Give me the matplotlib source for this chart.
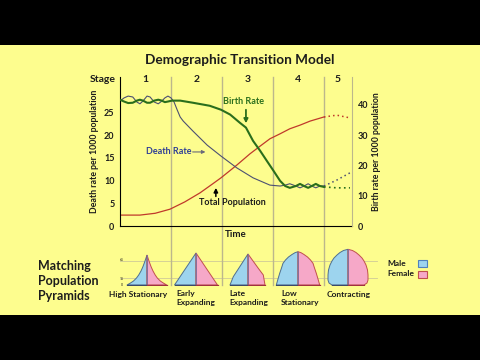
import matplotlib
matplotlib.use('Agg')
import matplotlib.pyplot as plt
from matplotlib.patches import Rectangle
from matplotlib.lines import Line2D

plt.rcParams['font.family'] = ['Lato', 'DejaVu Sans']

# ---- data ----
stage_names = ['1', '2', '3', '4', '5']
stage_centers = [0.50, 1.50, 2.50, 3.50, 4.27]
stage_bounds = [1, 2, 3, 4]

# death rate (left axis, per 1000)
death_x = [0.00, 0.08, 0.16, 0.25, 0.33, 0.39, 0.45, 0.53, 0.59, 0.67, 0.75, 0.82, 0.88,
           0.94, 1.00, 1.06, 1.12, 1.18, 1.24, 1.43, 1.71, 1.98, 2.29, 2.61, 2.94, 3.14,
           3.24, 3.33, 3.45, 3.53, 3.61, 3.69, 3.76, 3.84, 3.92, 4.00]
death = [27.5, 28.2, 28.6, 28.4, 27.3, 26.9, 27.5, 28.6, 28.4, 27.3, 26.9, 27.5, 28.2,
         28.6, 28.2, 27.3, 25.6, 24.0, 23.1, 20.9, 17.8, 15.4, 12.8, 10.6, 9.0, 8.8,
         9.0, 9.3, 8.8, 8.4, 8.8, 9.3, 8.8, 8.4, 8.8, 8.8]
death5_x = [4.00, 4.25, 4.51]
death5 = [8.8, 10.1, 11.7]

# birth rate (right axis, per 1000)
birth_x = [0.00, 0.08, 0.16, 0.25, 0.33, 0.39, 0.45, 0.53, 0.59, 0.67, 0.75, 0.82, 0.88,
           0.94, 1.02, 1.18, 1.43, 1.76, 1.98, 2.16, 2.35, 2.47, 2.61, 2.75, 2.88, 3.00,
           3.14, 3.24, 3.33, 3.45, 3.53, 3.61, 3.69, 3.76, 3.84, 3.92, 4.00]
birth = [41.7, 41.1, 40.6, 40.7, 41.4, 41.7, 41.4, 40.7, 40.7, 41.4, 41.7, 41.4, 40.9,
         41.1, 41.4, 41.4, 40.7, 39.7, 38.4, 36.8, 34.1, 32.5, 28.1, 24.8, 21.5, 18.5,
         14.9, 13.2, 12.6, 13.2, 13.9, 13.2, 12.6, 13.2, 13.9, 13.2, 12.9]
birth5_x = [4.00, 4.25, 4.51]
birth5 = [12.9, 12.6, 12.6]

# total population (drawn on left scale)
pop_x = [0.00, 0.39, 0.69, 0.98, 1.27, 1.57, 1.82, 1.98, 2.29, 2.55, 2.75, 2.94, 3.14,
         3.33, 3.53, 3.73, 4.00]
pop = [2.4, 2.4, 2.8, 3.7, 5.3, 7.3, 9.3, 10.6, 13.4, 15.9, 17.6, 19.2, 20.3,
       21.4, 22.2, 23.1, 24.0]
pop5_x = [4.00, 4.25, 4.51]
pop5 = [24.0, 24.4, 23.8]

# pyramid outlines: heights and half widths (male | female)
pyr_names = ['High Stationary', 'Early\nExpanding', 'Late\nExpanding', 'Low\nStationary', 'Contracting']
pyr_centers = [147, 196, 248, 298, 348]
pyr_h = [
    [0, 2, 4, 7, 10, 14, 18, 22, 26, 30],
    [0, 32],
    [0, 8.3, 31],
    [0, 6, 11.7, 17, 21.7, 25, 28, 30.5, 32.3, 33.3],
    [0, 2, 5, 10, 15, 20, 24, 27, 30, 32.5, 34.5, 35.7],
]
pyr_male = [
    [20, 16.5, 13.5, 10.5, 8.3, 6, 4.2, 2.7, 1.3, 0],
    [21.5, 0],
    [18, 14.7, 0],
    [21.7, 20, 18.3, 16.5, 15, 12.5, 9.5, 6, 3, 0],
    [16, 19, 20, 20, 19.5, 18, 16, 14, 11, 8, 4.5, 0],
]
pyr_hf = [
    [0, 2, 4, 7, 10, 14, 18, 22, 26, 30],
    [0, 32],
    [0, 10, 16.7, 31],
    [0, 6, 11.7, 17, 21.7, 25, 28, 30.5, 32.3, 33.3],
    [0, 2, 5, 10, 15, 20, 24, 27, 30, 32.5, 34.5, 35.7],
]
pyr_female = [
    [19.7, 16.3, 13.3, 10.3, 8.2, 6, 4.2, 2.7, 1.3, 0],
    [21.5, 0],
    [17, 15.3, 10.3, 0],
    [21.7, 20, 18.3, 16.5, 15, 12.5, 9.5, 6, 3, 0],
    [16, 19, 20, 20, 19.5, 18, 16, 14, 11, 8, 4.5, 0],
]

# ---- styling ----
W, H = 480, 360
yellow = '#fdfd8e'
sep_col = '#bcb78c'
blue = '#9dd4ee'
pink = '#f6a8c8'
green = '#2a6e1c'
dblue = '#4c5072'
red = '#c0392b'
txt = '#1c1c1c'


def fx(px):
    return px / W


def fy(py):
    return (H - py) / H


fig = plt.figure(figsize=(4.8, 3.6), dpi=100, facecolor='black')
fig.patches.append(Rectangle((0, fy(315)), 1, fy(45) - fy(315), transform=fig.transFigure,
                             facecolor=yellow, edgecolor='none', zorder=-10))

fig.text(0.5, fy(60), 'Demographic Transition Model', ha='center', va='center',
         fontsize=9.8, fontweight='bold', color=txt)

# faint age gridlines behind the pyramids
for gy in [260.5, 278]:
    fig.lines.append(Line2D([fx(120), fx(377)], [fy(gy), fy(gy)], transform=fig.transFigure,
                            color='#cfca98', lw=0.6, zorder=-5))

# main axes
ax = fig.add_axes([fx(120), fy(226), fx(352) - fx(120), fy(77) - fy(226)])
ax.set_facecolor('none')
ax.set_xlim(0, 4.55)
ax.set_ylim(0, 32.8)
ax2 = ax.twinx()
ax2.set_ylim(0, 32.8 * 1.5)

for s in ['top', 'right']:
    ax.spines[s].set_visible(False)
for s in ['top', 'left', 'bottom']:
    ax2.spines[s].set_visible(False)
ax.spines['left'].set_color('black')
ax.spines['bottom'].set_color('black')
ax2.spines['right'].set_color(sep_col)

ax.set_xticks([])
ax.set_yticks([0, 5, 10, 15, 20, 25])
ax2.set_yticks([0, 10, 20, 30, 40])
ax.tick_params(axis='y', length=0, pad=4, labelsize=6.5, labelcolor=txt)
ax2.tick_params(axis='y', length=0, pad=4, labelsize=6.5, labelcolor=txt)
for lab in ax.get_yticklabels() + ax2.get_yticklabels():
    lab.set_fontweight('bold')

ax.set_ylabel('Death rate per 1000 population', fontsize=6.3, fontweight='bold', color=txt)
ax.yaxis.set_label_coords(-0.092, 0.5)
ax2.set_ylabel('Birth rate per 1000 population', fontsize=6.3, fontweight='bold', color=txt)
ax2.yaxis.set_label_coords(1 + (372 - 352) / 232, 0.5)
ax.set_xlabel('Time', fontsize=7, fontweight='bold', color=txt, labelpad=3)

# stage separators, running down into the pyramid strip
for b in stage_bounds:
    ax.axvline(b, ymin=-59 / 149, ymax=1, clip_on=False, color=sep_col, lw=1, zorder=0)

ax.text(-(120 - 103) / 232 * 4.55, 0.98, 'Stage', transform=ax.get_xaxis_transform(),
        ha='center', va='center', fontsize=7.5, fontweight='bold', color=txt)
for name, c in zip(stage_names, stage_centers):
    ax.text(c, 0.98, name, transform=ax.get_xaxis_transform(), ha='center', va='center',
            fontsize=7.5, fontweight='bold', color=txt)

# curves
ax.plot(pop_x, pop, color=red, lw=0.9)
ax.plot(pop5_x, pop5, color=red, lw=1.1, ls=(0, (1, 2)))
ax.plot(death_x, death, color=dblue, lw=0.8)
ax.plot(death5_x, death5, color=dblue, lw=1.1, ls=(0, (1, 2)))
ax2.plot(birth_x, birth, color=green, lw=1.5)
ax2.plot(birth5_x, birth5, color=green, lw=1.2, ls=(0, (1, 2)))

# annotations
ax.text(2.43, 27.5, 'Birth Rate', ha='center', va='center', fontsize=6.5,
        fontweight='bold', color=green)
ax.annotate('', xy=(2.47, 22.0), xytext=(2.47, 26.2),
            arrowprops=dict(arrowstyle='-|>', color=green, lw=1.3, mutation_scale=6))
ax.text(0.95, 16.3, 'Death Rate', ha='center', va='center', fontsize=6.5,
        fontweight='bold', color='#2f3f96')
ax.annotate('', xy=(1.73, 16.3), xytext=(1.37, 16.3),
            arrowprops=dict(arrowstyle='-|>', color='#6a6a7a', lw=0.8, mutation_scale=5))
ax.text(2.20, 5.1, 'Total Population', ha='center', va='center', fontsize=6.5,
        fontweight='bold', color=txt)
ax.annotate('', xy=(1.88, 9.0), xytext=(1.88, 5.9),
            arrowprops=dict(arrowstyle='-|>', color='black', lw=1.1, mutation_scale=6))

# pyramids
for i, cx in enumerate(pyr_centers):
    pa = fig.add_axes([fx(cx - 24), fy(286), 48 / W, 39 / H])
    pa.set_xlim(-24, 24)
    pa.set_ylim(-1, 38)
    pa.axis('off')
    pa.set_facecolor('none')
    hm, wm = pyr_h[i], pyr_male[i]
    hf, wf = pyr_hf[i], pyr_female[i]
    pa.fill([0] + [-w for w in wm], [0] + hm, facecolor=blue, edgecolor='#4f6f8f', lw=0.7)
    pa.fill([0] + wf, [0] + hf, facecolor=pink, edgecolor='#c0504d', lw=0.7)
    pa.plot([0, 0], [0, hm[-1]], color='#8a6e9c', lw=0.7)
    pa.plot([-wm[0], 0], [0, 0], color='#3a4a6a', lw=0.9)
    pa.plot([0, wf[0]], [0, 0], color='#a03040', lw=0.9)
    if i == 0:
        for lab, yy in [('65', 25), ('15', 6), ('0', 0.5)]:
            pa.text(-25, yy, lab, ha='center', va='center', fontsize=2.5, color=txt)

fig.text(fx(138), fy(295), pyr_names[0], ha='center', va='center', fontsize=6,
         fontweight='bold', color=txt)
for name, lx in zip(pyr_names[1:4], [176, 229, 281]):
    fig.text(fx(lx), fy(298), name, ha='left', va='center', fontsize=6,
             fontweight='bold', color=txt, linespacing=1.45)
fig.text(fx(349), fy(295), pyr_names[4], ha='center', va='center', fontsize=6,
         fontweight='bold', color=txt)

fig.text(fx(38), fy(281), 'Matching\nPopulation\nPyramids', ha='left', va='center',
         fontsize=9, fontweight='bold', color=txt, linespacing=1.25)

# legend
fig.text(fx(387), fy(263), 'Male', ha='left', va='center', fontsize=6, fontweight='bold', color=txt)
fig.text(fx(387), fy(274), 'Female', ha='left', va='center', fontsize=6, fontweight='bold', color=txt)
fig.patches.append(Rectangle((fx(418), fy(266.5)), 9 / W, 7 / H, transform=fig.transFigure,
                             facecolor=blue, edgecolor='#4f81bd', lw=0.8))
fig.patches.append(Rectangle((fx(418), fy(277.5)), 9 / W, 7 / H, transform=fig.transFigure,
                             facecolor=pink, edgecolor='#c0504d', lw=0.8))

fig.savefig('out.png', dpi=100, facecolor=fig.get_facecolor())
